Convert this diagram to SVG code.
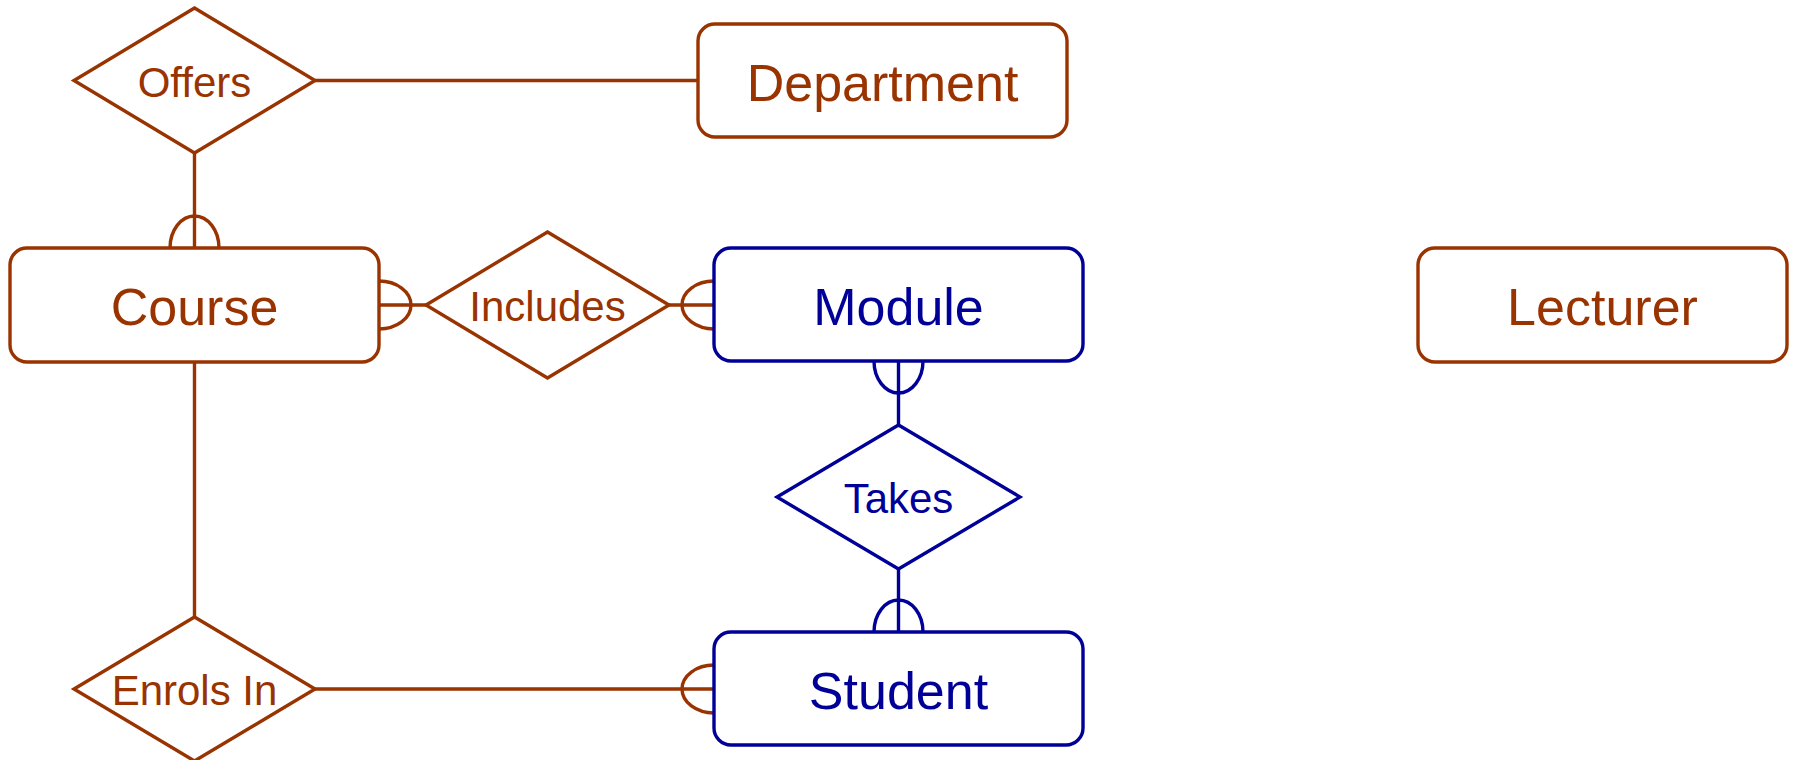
<svg xmlns="http://www.w3.org/2000/svg" width="1794" height="760" viewBox="0 0 1794 760">
<style>
.b{stroke:#993300}
.u{stroke:#000099}
.ent{fill:#fff;stroke-width:3.4}
.rel{fill:#fff;stroke-width:3.4;stroke-linejoin:miter}
.c{fill:none;stroke-width:3.4}
.et{font-family:"Liberation Sans",Arial,sans-serif;font-size:52px;text-anchor:middle}
.rt{font-family:"Liberation Sans",Arial,sans-serif;font-size:42px;text-anchor:middle}
.tb{fill:#993300}
.tu{fill:#000099}
</style>
<rect width="1794" height="760" fill="#fff"/>
<g id="connectors">
  <!-- Offers - Department -->
  <line class="c b" x1="315" y1="80.5" x2="698" y2="80.5"/>
  <!-- Offers - Course -->
  <line class="c b" x1="194.5" y1="153" x2="194.5" y2="248"/>
  <path class="c b" d="M170 248 A24.5 32 0 0 1 219 248"/>
  <!-- Course - Includes -->
  <line class="c b" x1="379" y1="305" x2="426" y2="305"/>
  <path class="c b" d="M379 281 A32 24 0 0 1 379 329"/>
  <!-- Includes - Module -->
  <line class="c b" x1="669" y1="305" x2="714" y2="305"/>
  <path class="c b" d="M714 281 A32 24 0 0 0 714 329"/>
  <!-- Module - Takes -->
  <line class="c u" x1="898.5" y1="361" x2="898.5" y2="425"/>
  <path class="c u" d="M874 361 A24.5 32 0 0 0 923 361"/>
  <!-- Takes - Student -->
  <line class="c u" x1="898.5" y1="569" x2="898.5" y2="632"/>
  <path class="c u" d="M874 632 A24.5 32 0 0 1 923 632"/>
  <!-- Course - Enrols In -->
  <line class="c b" x1="194.5" y1="362" x2="194.5" y2="617"/>
  <!-- Enrols In - Student -->
  <line class="c b" x1="315" y1="689" x2="714" y2="689"/>
  <path class="c b" d="M714 665 A32 24 0 0 0 714 713"/>
</g>
<g id="offers">
  <polygon class="rel b" points="194.5,8 315,80.5 194.5,153 74,80.5"/>
  <text class="rt tb" x="194.5" y="96.5">Offers</text>
</g>
<g id="department">
  <rect class="ent b" x="698" y="24" width="369" height="113" rx="17"/>
  <text class="et tb" x="882.5" y="100.5">Department</text>
</g>
<g id="course">
  <rect class="ent b" x="10" y="248" width="369" height="114" rx="17"/>
  <text class="et tb" x="194.5" y="325">Course</text>
</g>
<g id="includes">
  <polygon class="rel b" points="547.5,232 669,305 547.5,378 426,305"/>
  <text class="rt tb" x="547.5" y="321">Includes</text>
</g>
<g id="module">
  <rect class="ent u" x="714" y="248" width="369" height="113" rx="17"/>
  <text class="et tu" x="898.5" y="325">Module</text>
</g>
<g id="lecturer">
  <rect class="ent b" x="1418" y="248" width="369" height="114" rx="17"/>
  <text class="et tb" x="1602.5" y="325">Lecturer</text>
</g>
<g id="takes">
  <polygon class="rel u" points="898.5,425 1020,497 898.5,569 777,497"/>
  <text class="rt tu" x="898.5" y="513">Takes</text>
</g>
<g id="enrols-in">
  <polygon class="rel b" points="194.5,617 315,689 194.5,761 74,689"/>
  <text class="rt tb" x="194.5" y="705">Enrols In</text>
</g>
<g id="student">
  <rect class="ent u" x="714" y="632" width="369" height="113" rx="17"/>
  <text class="et tu" x="898.5" y="708.5">Student</text>
</g>
</svg>
